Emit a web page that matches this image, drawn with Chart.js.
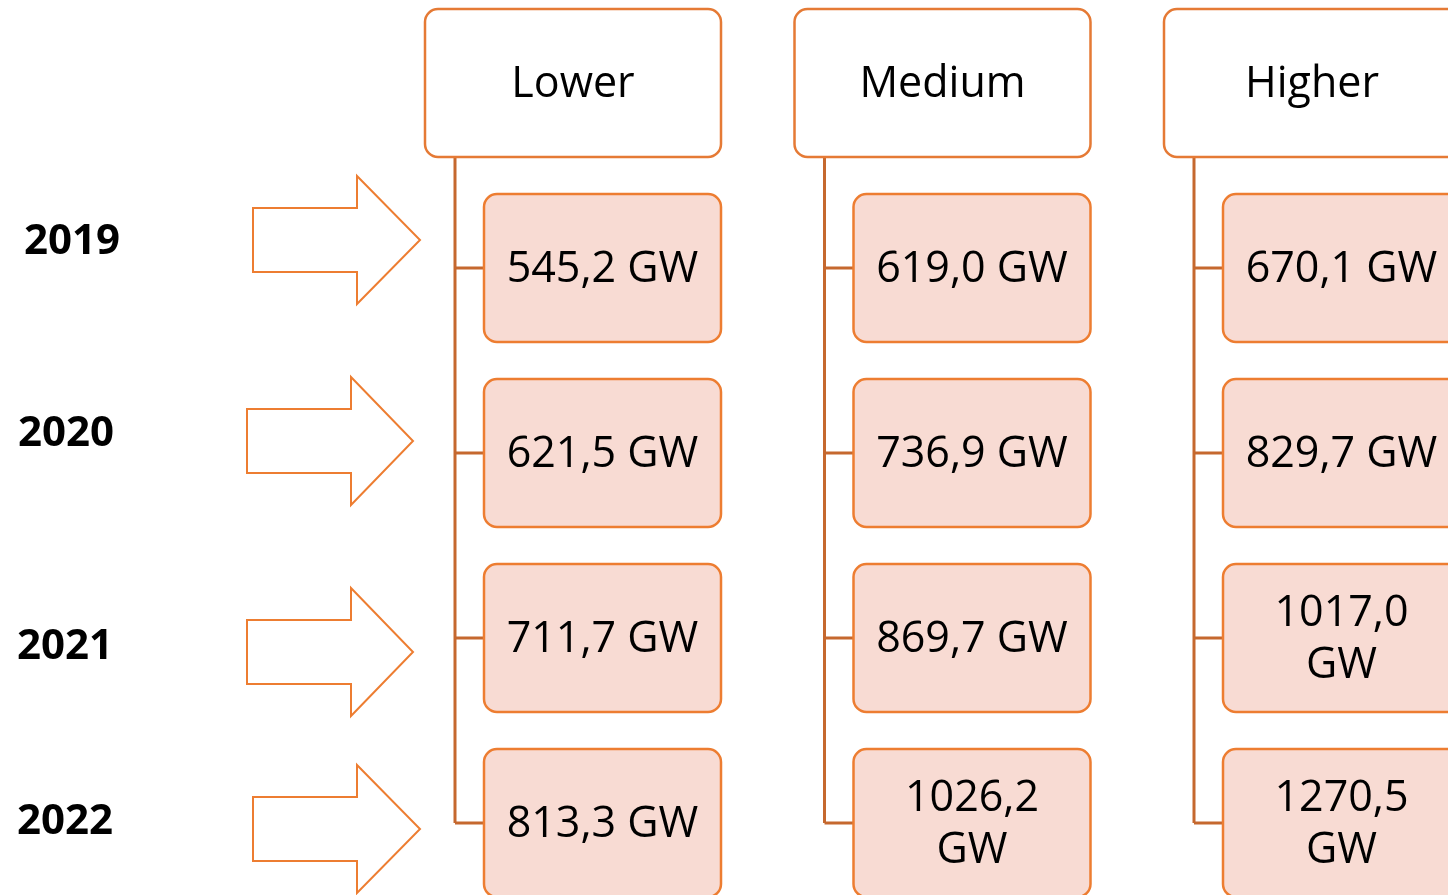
<!DOCTYPE html>
<html>
<head>
<meta charset="utf-8">
<script src="https://cdn.jsdelivr.net/npm/chart.js@4.4.1/dist/chart.umd.min.js"></script>
<style>
  html, body { margin: 0; padding: 0; background: #fff; overflow: hidden; }
  canvas { display: block; }
</style>
</head>
<body>
<canvas id="diagram" width="1448" height="895"></canvas>
<script>
const years = ['2019', '2020', '2021', '2022'];
const scenarios = ['Lower', 'Medium', 'Higher'];
const lowerGW = [545.2, 621.5, 711.7, 813.3];
const mediumGW = [619.0, 736.9, 869.7, 1026.2];
const higherGW = [670.1, 829.7, 1017.0, 1270.5];
const seriesGW = [lowerGW, mediumGW, higherGW];

// layout, in page units (x scale 0..1448, y scale 0..895)
const colX0 = 425, colStep = 369.5, headW = 296, headTop = 9, headH = 148;
const boxDx = 59, boxW = 237, rowTop = 194, rowStep = 185, boxH = 148, radius = 13;
const trunkDx = 30;
const textDy = 2;
const arrowX = [[253, 357, 420], [247, 351, 413], [247, 351, 413], [253, 357, 420]]; // left, shaft end, tip
const arrowY = [240, 441, 652, 829];
const yearX = [72, 66, 65, 65];
const yearY = [242, 434, 647, 822];

const ORANGE = '#ED7D31';
const LINE = '#C5682E';
const FILL = '#F8DBD3';

const fmt = v => v.toFixed(1).replace('.', ',') + ' GW';

function roundBox(ctx, x, y, w, h, r) {
  ctx.beginPath();
  ctx.moveTo(x + r, y);
  ctx.lineTo(x + w - r, y);
  ctx.arcTo(x + w, y, x + w, y + r, r);
  ctx.lineTo(x + w, y + h - r);
  ctx.arcTo(x + w, y + h, x + w - r, y + h, r);
  ctx.lineTo(x + r, y + h);
  ctx.arcTo(x, y + h, x, y + h - r, r);
  ctx.lineTo(x, y + r);
  ctx.arcTo(x, y, x + r, y, r);
  ctx.closePath();
}

const diagramPlugin = {
  id: 'diagram',
  afterDraw(chart) {
    const { ctx, scales: { x, y } } = chart;
    const px = v => x.getPixelForValue(v);
    const py = v => y.getPixelForValue(v);
    ctx.save();

    // year labels + arrows
    years.forEach((yr, i) => {
      ctx.fillStyle = '#000';
      ctx.font = 'bold 42px "Open Sans"';
      ctx.textAlign = 'center';
      ctx.textBaseline = 'middle';
      ctx.fillText(yr, px(yearX[i]), py(yearY[i]));

      const [a0, a1, a2] = arrowX[i], c = arrowY[i];
      ctx.beginPath();
      ctx.moveTo(px(a0), py(c - 32));
      ctx.lineTo(px(a1), py(c - 32));
      ctx.lineTo(px(a1), py(c - 64));
      ctx.lineTo(px(a2), py(c));
      ctx.lineTo(px(a1), py(c + 64));
      ctx.lineTo(px(a1), py(c + 32));
      ctx.lineTo(px(a0), py(c + 32));
      ctx.closePath();
      ctx.fillStyle = '#fff';
      ctx.fill();
      ctx.strokeStyle = ORANGE;
      ctx.lineWidth = 2;
      ctx.stroke();
    });

    scenarios.forEach((name, j) => {
      const cx = colX0 + j * colStep;
      const trunk = cx + trunkDx;
      const lastMid = rowTop + (years.length - 1) * rowStep + boxH / 2;

      // connectors
      ctx.strokeStyle = LINE;
      ctx.lineWidth = 3;
      ctx.beginPath();
      ctx.moveTo(px(trunk), py(headTop + headH));
      ctx.lineTo(px(trunk), py(lastMid));
      years.forEach((_, i) => {
        const mid = rowTop + i * rowStep + boxH / 2;
        ctx.moveTo(px(trunk), py(mid));
        ctx.lineTo(px(cx + boxDx), py(mid));
      });
      ctx.stroke();

      // header
      roundBox(ctx, px(cx), py(headTop), px(cx + headW) - px(cx), py(headTop + headH) - py(headTop), radius);
      ctx.fillStyle = '#fff';
      ctx.fill();
      ctx.strokeStyle = '#E57A35';
      ctx.lineWidth = 2.5;
      ctx.stroke();
      ctx.fillStyle = '#000';
      ctx.font = '43px "Open Sans"';
      ctx.textAlign = 'center';
      ctx.textBaseline = 'middle';
      ctx.fillText(name, px(cx + headW / 2), py(headTop + headH / 2 + textDy));

      // value boxes
      seriesGW[j].forEach((v, i) => {
        const bx = cx + boxDx, by = rowTop + i * rowStep;
        roundBox(ctx, px(bx), py(by), px(bx + boxW) - px(bx), py(by + boxH) - py(by), radius);
        ctx.fillStyle = FILL;
        ctx.fill();
        ctx.strokeStyle = ORANGE;
        ctx.lineWidth = 2.5;
        ctx.stroke();

        ctx.fillStyle = '#000';
        ctx.font = '43px "Open Sans"';
        const label = fmt(v);
        const tx = px(bx + boxW / 2), ty = py(by + boxH / 2 + textDy);
        if (ctx.measureText(label).width > boxW - 28) {
          const parts = label.split(' ');
          ctx.fillText(parts[0], tx, ty - 26);
          ctx.fillText(parts[1], tx, ty + 26);
        } else {
          ctx.fillText(label, tx, ty);
        }
      });
    });

    ctx.restore();
  }
};

new Chart(document.getElementById('diagram'), {
  type: 'scatter',
  data: { datasets: [{ data: [], pointRadius: 0 }] },
  options: {
    responsive: false,
    animation: false,
    layout: { padding: 0 },
    scales: {
      x: { type: 'linear', min: 0, max: 1448, display: false },
      y: { type: 'linear', min: 0, max: 895, reverse: true, display: false }
    },
    plugins: { legend: { display: false }, tooltip: { enabled: false } }
  },
  plugins: [diagramPlugin]
});
</script>
</body>
</html>
